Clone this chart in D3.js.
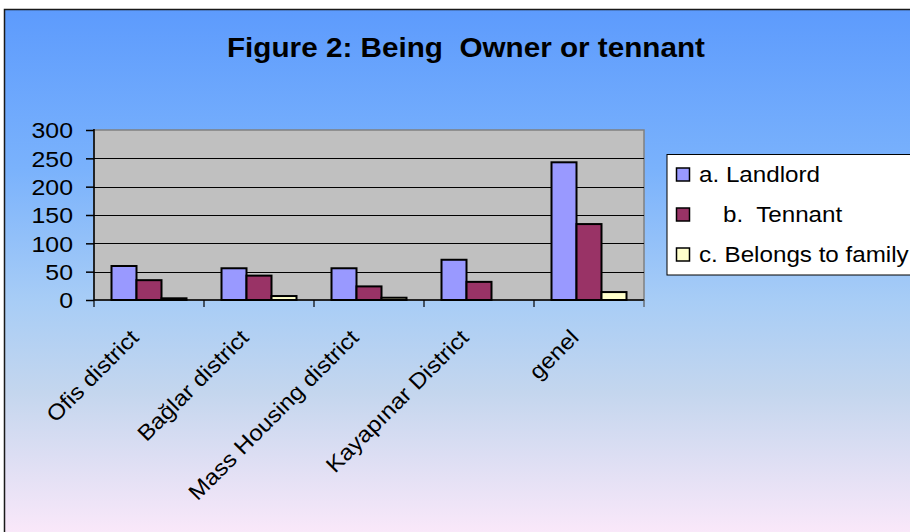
<!DOCTYPE html>
<html>
<head>
<meta charset="utf-8">
<script src="https://cdn.jsdelivr.net/npm/d3@7"></script>
<style>
    html, body { margin: 0; padding: 0; background: #fff; }
    #chart { width: 910px; height: 532px; }
    text { font-family: Arial, "Liberation Sans", sans-serif; }
</style>
</head>
<body>
<div id="chart"></div>
<script>
///// DATOS //////
let categories = ['Ofis district', 'Bağlar district', 'Mass Housing district', 'Kayapınar District', 'genel'];
let seriesNames = ['a. Landlord', 'b.  Tennant', 'c. Belongs to family'];
let landlord = [60, 56, 56, 71, 243];
let tennant = [35, 43, 24, 32, 134];
let family = [3, 7, 4, 0, 14];
let yTicks = [0, 50, 100, 150, 200, 250, 300];
let colors = ['#9999ff', '#993366', '#ffffcc'];

let series = [landlord, tennant, family];

///// GRÁFICO //////
let width = 910, height = 532;
let margin = {top: 130, left: 94, right: 266, bottom: 232};
let plotW = width - margin.left - margin.right, plotH = height - margin.top - margin.bottom;
let stretch = 1.1; //el texto del original sale algo ensanchado

let svg = d3.select('#chart').append('svg')
    .attr('width', width)
    .attr('height', height);

//Fondo degradado
let grad = svg.append('defs').append('linearGradient')
    .attr('id', 'bg')
    .attr('x1', 0).attr('y1', 0).attr('x2', 0).attr('y2', 1);
grad.append('stop').attr('offset', '0%').attr('stop-color', '#5d9bfd');
grad.append('stop').attr('offset', '30%').attr('stop-color', '#7ab2fc');
grad.append('stop').attr('offset', '55%').attr('stop-color', '#a8cdf6');
grad.append('stop').attr('offset', '72%').attr('stop-color', '#c4d6ee');
grad.append('stop').attr('offset', '100%').attr('stop-color', '#fde9fa');

svg.append('rect')
    .attr('x', 4.5).attr('y', 9.5)
    .attr('width', width).attr('height', height)
    .attr('fill', 'url(#bg)')
    .attr('stroke', '#1a1a1a')
    .attr('stroke-width', 1.5);

//Título
svg.append('text')
    .attr('x', 466).attr('y', 57)
    .attr('text-anchor', 'middle')
    .attr('font-size', 27)
    .attr('font-weight', 'bold')
    .attr('textLength', 478)
    .attr('lengthAdjust', 'spacingAndGlyphs')
    .style('white-space', 'pre')
    .text('Figure 2: Being  Owner or tennant');

let chart = svg.append('g')
    .attr('transform', 'translate(' + margin.left + ',' + margin.top + ')');

let x0 = d3.scaleBand()
    .domain(categories)
    .range([0, plotW]);

let x1 = d3.scaleBand()
    .domain(d3.range(series.length))
    .range([0, x0.bandwidth()])
    .paddingInner(0)
    .paddingOuter(0.7);

let y = d3.scaleLinear()
    .domain([0, 300])
    .range([plotH, 0]);

//Área del gráfico
chart.append('rect')
    .attr('width', plotW).attr('height', plotH)
    .attr('fill', '#c0c0c0')
    .attr('stroke', '#808080')
    .attr('stroke-width', 1.5);

//Líneas de rejilla
chart.selectAll('.grid')
    .data(yTicks.filter(function(d) { return d > 0 && d < 300; }))
    .enter().append('line')
    .attr('x1', 0).attr('x2', plotW)
    .attr('y1', function(d) { return Math.round(y(d)) + 0.5; })
    .attr('y2', function(d) { return Math.round(y(d)) + 0.5; })
    .attr('stroke', '#000')
    .attr('stroke-width', 1);

//Barras
chart.selectAll('.cat')
    .data(categories)
    .enter().append('g')
    .attr('transform', function(d) { return 'translate(' + x0(d) + ',0)'; })
    .selectAll('rect')
    .data(function(d, i) { return series.map(function(s, k) { return {k: k, v: s[i]}; }); })
    .enter().append('rect')
    .attr('x', function(d) { return x1(d.k); })
    .attr('width', x1.bandwidth())
    .attr('y', function(d) { return y(d.v); })
    .attr('height', function(d) { return plotH - y(d.v); })
    .attr('fill', function(d) { return colors[d.k]; })
    .attr('stroke', '#000')
    .attr('stroke-width', 2);

//Eje Y
let yAxis = chart.append('g')
    .call(d3.axisLeft(y).tickValues(yTicks).tickSize(8).tickPadding(13));
yAxis.select('.domain').attr('stroke', '#000').attr('stroke-width', 1.5).attr('d', 'M0,-1V' + plotH);
yAxis.selectAll('text')
    .attr('font-size', 22)
    .attr('fill', '#000')
    .attr('dy', '0.36em')
    .attr('x', -21 / 1.13)
    .attr('transform', 'scale(1.13,1)');
yAxis.selectAll('line').attr('stroke', '#000').attr('stroke-width', 1.5);

//Eje X
let xAxis = chart.append('g')
    .attr('transform', 'translate(0,' + plotH + ')');
xAxis.append('line')
    .attr('x1', 0).attr('x2', plotW)
    .attr('stroke', '#000').attr('stroke-width', 1.5);
xAxis.selectAll('.tick')
    .data(d3.range(categories.length + 1))
    .enter().append('line')
    .attr('x1', function(d) { return d * x0.step(); })
    .attr('x2', function(d) { return d * x0.step(); })
    .attr('y1', 0).attr('y2', 7)
    .attr('stroke', function(d) { return d == categories.length ? '#555' : '#000'; })
    .attr('stroke-width', 1.2);

xAxis.selectAll('.label')
    .data(categories)
    .enter().append('text')
    .attr('text-anchor', 'end')
    .attr('font-size', 22)
    .attr('transform', function(d) {
        return 'translate(' + (x0(d) + x0.bandwidth() / 2 - 9) + ',39) rotate(-45) scale(' + stretch + ',1)';
    })
    .text(function(d) { return d; });

//Leyenda
let legend = svg.append('g')
    .attr('transform', 'translate(667,154.5)');
legend.append('rect')
    .attr('width', 260).attr('height', 120.5)
    .attr('fill', '#fff')
    .attr('stroke', '#000')
    .attr('stroke-width', 1);

let items = legend.selectAll('.item')
    .data(seriesNames)
    .enter().append('g')
    .attr('transform', function(d, i) { return 'translate(0,' + (20 + i * 40) + ')'; });
items.append('rect')
    .attr('x', 9.5).attr('y', -6.5)
    .attr('width', 13).attr('height', 13)
    .attr('fill', function(d, i) { return colors[i]; })
    .attr('stroke', '#000')
    .attr('stroke-width', 1.5);
items.append('text')
    .attr('font-size', 22)
    .attr('transform', function(d, i) { return 'translate(' + (i == 1 ? 56 : 32) + ',7.5) scale(' + stretch + ',1)'; })
    .style('white-space', 'pre')
    .text(function(d) { return d; });
</script>
</body>
</html>
